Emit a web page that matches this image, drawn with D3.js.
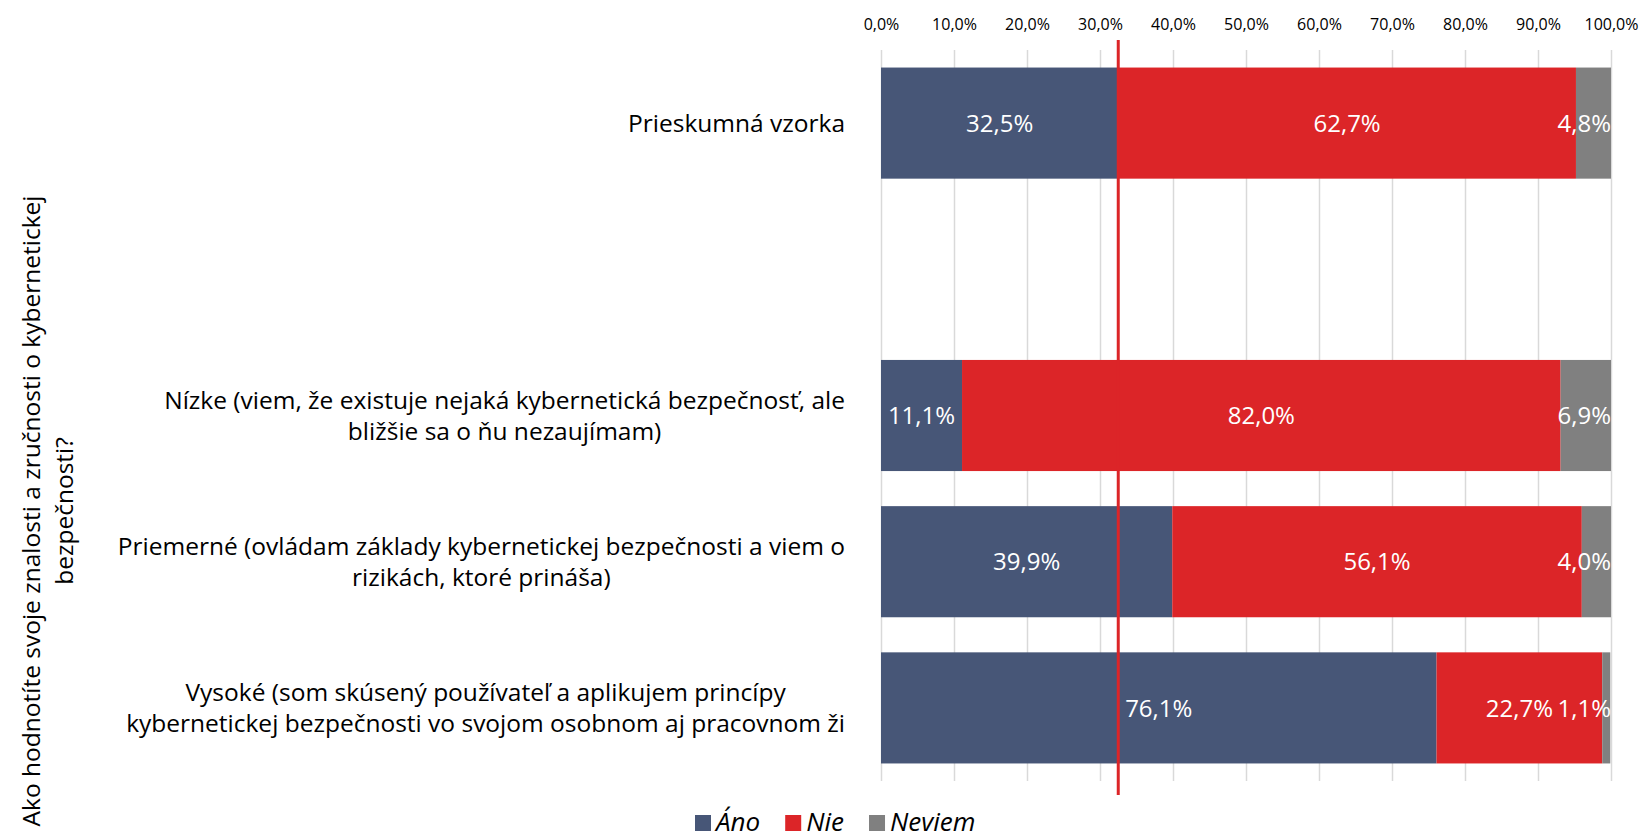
<!DOCTYPE html>
<html>
<head>
<meta charset="utf-8">
<script src="https://cdn.jsdelivr.net/npm/d3@7"></script>
<style>
  body { margin: 0; background: #fff; }
  text { font-family: "Open Sans", sans-serif; }
</style>
</head>
<body>
<div id="chart"></div>
<script>
// data
var categories = ["sample", "gap", "low", "mid", "high"];
var categoryLines = [
    ["Prieskumná vzorka"],
    [],
    ["Nízke (viem, že existuje nejaká kybernetická bezpečnosť, ale", "bližšie sa o ňu nezaujímam)"],
    ["Priemerné (ovládam základy kybernetickej bezpečnosti a viem o", "rizikách, ktoré prináša)"],
    ["Vysoké (som skúsený používateľ a aplikujem princípy", "kybernetickej bezpečnosti vo svojom osobnom aj pracovnom ži"]
];
var ano = [32.5, null, 11.1, 39.9, 76.1];
var nie = [62.7, null, 82.0, 56.1, 22.7];
var neviem = [4.8, null, 6.9, 4.0, 1.1];
var seriesNames = ["Áno", "Nie", "Neviem"];
var tickValues = [0, 10, 20, 30, 40, 50, 60, 70, 80, 90, 100];
var refValue = 32.5;
var axisTitle = ["Ako hodnotíte svoje znalosti a zručnosti o kybernetickej", "bezpečnosti?"];

var colors = ["#475677", "#dc2528", "#808080"];

var svgWidth = 1642;
var svgHeight = 840;

var margin = { top: 50, right: 31, bottom: 59, left: 881 };
var width = svgWidth - margin.left - margin.right;
var height = svgHeight - margin.top - margin.bottom;

var svg = d3.select("#chart")
    .append("svg")
    .attr("width", svgWidth)
    .attr("height", svgHeight);

var chartGroup = svg.append("g")
    .attr("transform", `translate(${margin.left}, ${margin.top})`);

var fmt = v => v.toFixed(1).replace(".", ",") + "%";

var xScale = d3.scaleLinear().domain([0, 100]).range([0, width]);
var yScale = d3.scaleBand().domain(categories).range([0, height])
    .paddingInner(0.24).paddingOuter(0.12);

// gridlines
chartGroup.append("g")
    .attr("class", "grid")
    .attr("transform", `translate(0, ${height})`)
    .call(d3.axisBottom(xScale).tickValues(tickValues).tickSize(-height).tickFormat(""))
    .call(g => g.select(".domain").remove())
    .call(g => g.selectAll("line").attr("stroke", "#d9d9d9").attr("stroke-width", 1.5));

// top tick labels
chartGroup.append("g")
    .call(d3.axisTop(xScale).tickValues(tickValues).tickSize(0).tickPadding(20).tickFormat(d => fmt(d)))
    .call(g => g.select(".domain").remove())
    .call(g => g.selectAll("text")
        .attr("font-family", "Open Sans")
        .attr("font-size", "16px")
        .attr("fill", "#000"));

// stacked bars
var rows = categories.map((c, i) => ({ cat: c, vals: [ano[i], nie[i], neviem[i]] }))
    .filter(r => r.vals[0] != null);

rows.forEach(function (r) {
    var x0 = 0;
    r.segs = r.vals.map(function (v, k) {
        var s = { cat: r.cat, k: k, start: x0, end: x0 + v, value: v };
        x0 += v;
        return s;
    });
});

var segs = rows.flatMap(r => r.segs);

chartGroup.selectAll("rect.seg")
    .data(segs)
    .enter()
    .append("rect")
    .attr("class", "seg")
    .attr("x", d => xScale(d.start))
    .attr("y", d => yScale(d.cat))
    .attr("width", d => xScale(d.end) - xScale(d.start))
    .attr("height", yScale.bandwidth())
    .attr("fill", d => colors[d.k]);

// data labels
chartGroup.selectAll("text.lbl")
    .data(segs)
    .enter()
    .append("text")
    .attr("class", "lbl")
    .text(d => fmt(d.value))
    .attr("y", d => yScale(d.cat) + yScale.bandwidth() / 2)
    .attr("dy", "0.36em")
    .attr("text-anchor", "middle")
    .attr("font-size", "24px")
    .attr("fill", "#fff")
    .attr("x", function (d) {
        var w = this.getComputedTextLength();
        var cx = xScale((d.start + d.end) / 2);
        return Math.min(cx, width - w / 2);
    });

// reference line
chartGroup.append("line")
    .attr("x1", xScale(refValue))
    .attr("x2", xScale(refValue))
    .attr("y1", -10)
    .attr("y2", height + 14)
    .attr("stroke", "#dc2528")
    .attr("stroke-width", 3);

// category labels
var lineH = 31;
categories.forEach(function (c, i) {
    var lines = categoryLines[i];
    if (!lines.length) return;
    var g = chartGroup.append("g");
    var yc = yScale(c) + yScale.bandwidth() / 2;
    var texts = lines.map(function (t, j) {
        return g.append("text")
            .text(t)
            .attr("y", yc + (j - (lines.length - 1) / 2) * lineH)
            .attr("dy", "0.36em")
            .attr("text-anchor", "middle")
            .attr("font-size", "24.5px")
            .attr("fill", "#000");
    });
    var maxW = d3.max(texts, t => t.node().getComputedTextLength());
    texts.forEach(t => t.attr("x", -36 - maxW / 2));
});

// axis title
var titleG = svg.append("g")
    .attr("transform", "translate(48, 511) rotate(-90)");
axisTitle.forEach(function (t, j) {
    titleG.append("text")
        .text(t)
        .attr("x", 0)
        .attr("y", (j - 0.5) * 33)
        .attr("dy", "0.36em")
        .attr("text-anchor", "middle")
        .attr("font-size", "24.5px")
        .attr("fill", "#000");
});

// legend
var legend = svg.append("g").attr("transform", "translate(695, 815)");
var lx = 0;
seriesNames.forEach(function (name, k) {
    legend.append("rect")
        .attr("x", lx).attr("y", 0)
        .attr("width", 16).attr("height", 16)
        .attr("fill", colors[k]);
    var t = legend.append("text")
        .text(name)
        .attr("x", lx + 21)
        .attr("y", 16)
        .attr("font-size", "26px")
        .attr("font-style", "italic")
        .attr("fill", "#000");
    lx += 21 + t.node().getComputedTextLength() + 25;
});
</script>
</body>
</html>
